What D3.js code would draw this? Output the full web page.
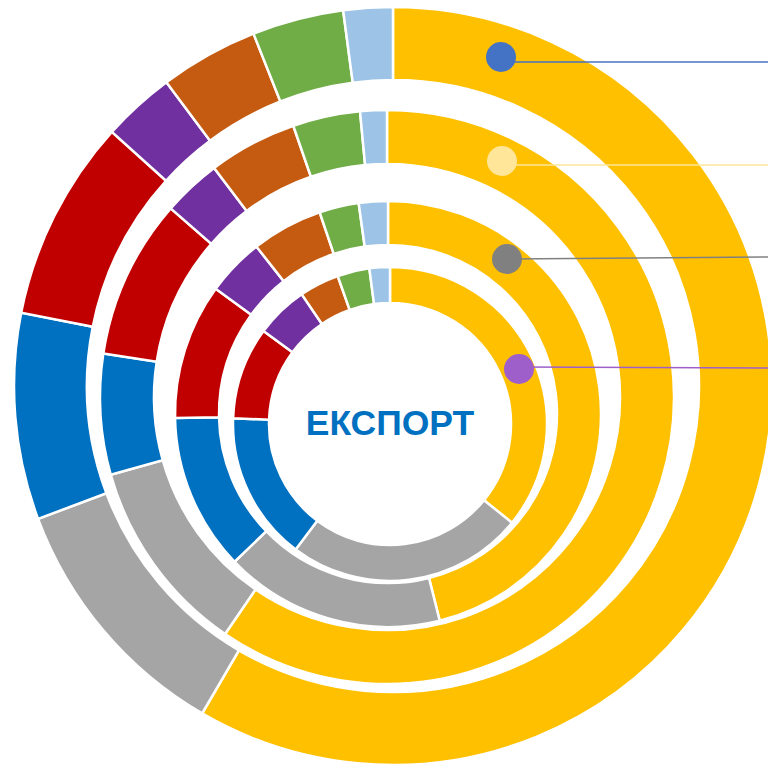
<!DOCTYPE html>
<html>
<head>
<meta charset="utf-8">
<script src="https://cdn.jsdelivr.net/npm/d3@7"></script>
<style>
  html, body { margin: 0; padding: 0; background: #fff; overflow: hidden; }
  svg { display: block; }
</style>
</head>
<body>
<script>
  var width = 768;
  var height = 764;

  // categories, clockwise from 12 o'clock
  var categories = ['cat1', 'cat2', 'cat3', 'cat4', 'cat5', 'cat6', 'cat7', 'cat8'];
  var colors = ['#FFC000', '#A5A5A5', '#0070C0', '#C00000', '#7030A0', '#C55A11', '#70AD47', '#9DC3E6'];

  // shares, % (ring 1 = innermost)
  var ring1 = [35.8, 24.4, 15.3, 9.5, 5.4, 4.1, 3.3, 2.1];
  var ring2 = [46.1, 16.7, 11.9, 10.3, 4.4, 5.4, 3.0, 2.2];
  var ring3 = [59.6, 11.1, 6.8, 9.0, 3.3, 5.0, 3.8, 1.5];
  var ring4 = [58.4, 10.9, 8.8, 8.6, 3.1, 4.2, 3.9, 2.1];

  var series = [ring1, ring2, ring3, ring4];

  // marker colours for the rings (labels fall outside the picture)
  var markerColors = ['#9E5FCB', '#808080', '#FFE699', '#4472C4'];

  // ring geometry: each ring drawn around its own centre
  var rings = [
    { cx: 390, cy: 424, r0: 121, r1: 157 },
    { cx: 388, cy: 414, r0: 169, r1: 213 },
    { cx: 387, cy: 397, r0: 233, r1: 287 },
    { cx: 393, cy: 386, r0: 306, r1: 379 }
  ];
  // marker positions
  var markers = [
    { x: 519, y: 369, y1: 367, y2: 368 },
    { x: 507, y: 259, y1: 259, y2: 257 },
    { x: 502, y: 161, y1: 165, y2: 165 },
    { x: 501, y: 57, y1: 62, y2: 62 }
  ];

  var colorScale = d3.scaleOrdinal().domain(categories).range(colors);

  var svg = d3.select('body').append('svg')
    .attr('width', width)
    .attr('height', height);

  var pie = d3.pie().sort(null).value(d => d.v);

  series.forEach(function(vals, i) {
    var g = rings[i];
    var data = vals.map((v, j) => ({ cat: categories[j], v: v }));
    var arc = d3.arc().innerRadius(g.r0).outerRadius(g.r1);

    svg.append('g')
      .attr('transform', `translate(${g.cx},${g.cy})`)
      .selectAll('path')
      .data(pie(data))
      .enter().append('path')
      .attr('d', arc)
      .attr('fill', d => colorScale(d.data.cat))
      .attr('stroke', '#fff')
      .attr('stroke-width', 2.5)
      .attr('stroke-linejoin', 'miter');
  });

  // marker lines + dots
  var mk = svg.append('g');
  markers.forEach(function(m, i) {
    mk.append('line')
      .attr('x1', m.x).attr('y1', m.y1)
      .attr('x2', width).attr('y2', m.y2)
      .attr('stroke', markerColors[i])
      .attr('stroke-width', 1.5);
    mk.append('circle')
      .attr('cx', m.x).attr('cy', m.y)
      .attr('r', 15)
      .attr('fill', markerColors[i]);
  });

  svg.append('text')
    .attr('x', 390)
    .attr('y', 435)
    .attr('text-anchor', 'middle')
    .attr('font-family', '"Liberation Sans", Arial, sans-serif')
    .attr('font-weight', 'bold')
    .attr('font-size', 35.5)
    .attr('fill', '#0070C0')
    .text('ЕКСПОРТ');
</script>
</body>
</html>
